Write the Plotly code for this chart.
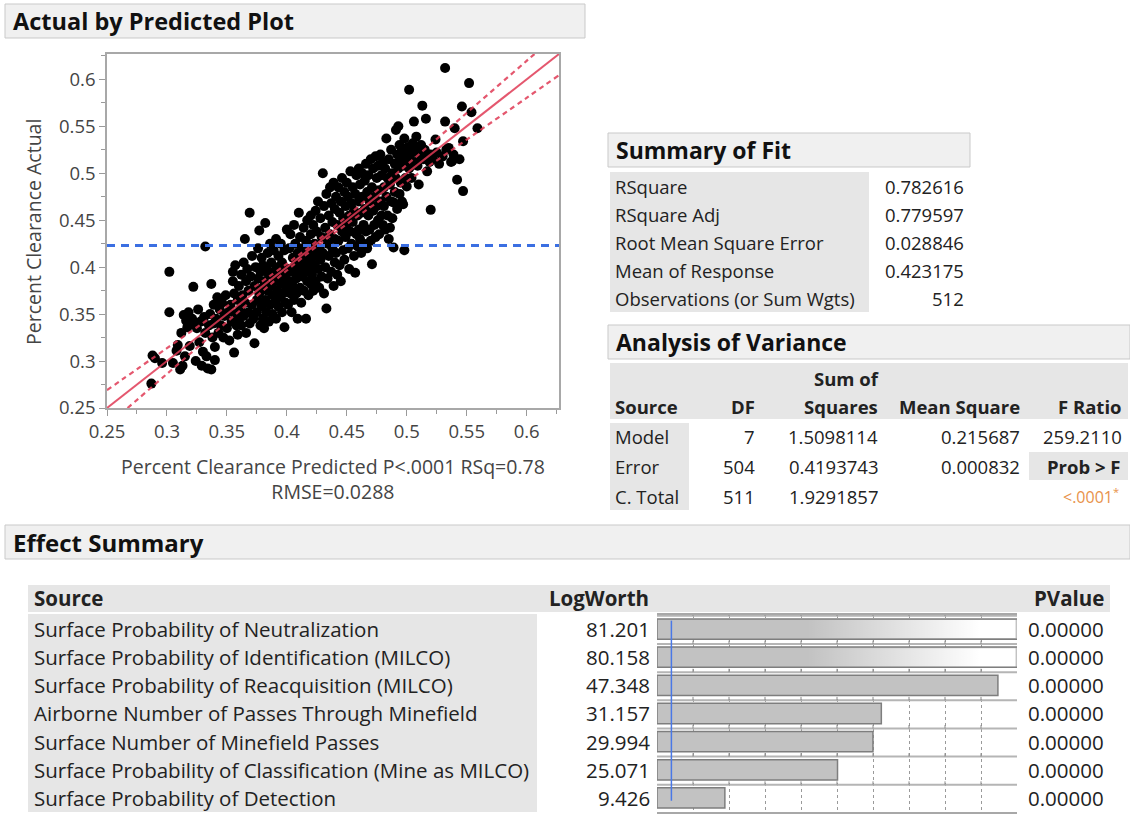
import plotly.graph_objects as go

W, H = 1130, 815
FONT = "Open Sans"

# ---------------- data ----------------
# (predicted, actual) pairs read off the Actual by Predicted plot
scatter_points = [
    (0.287, 0.276), (0.288, 0.306), (0.290, 0.303), (0.296, 0.298),
    (0.302, 0.395), (0.302, 0.352), (0.305, 0.298), (0.308, 0.311), (0.309, 0.317), (0.311, 0.291),
    (0.313, 0.295), (0.312, 0.330), (0.314, 0.349), (0.316, 0.343), (0.317, 0.336), (0.318, 0.352),
    (0.319, 0.316), (0.315, 0.305),
    (0.321, 0.345), (0.322, 0.379), (0.323, 0.340), (0.324, 0.300), (0.325, 0.335), (0.326, 0.355),
    (0.327, 0.320), (0.328, 0.342), (0.329, 0.295), (0.330, 0.310), (0.331, 0.347), (0.332, 0.422),
    (0.332, 0.330), (0.333, 0.305), (0.334, 0.292), (0.335, 0.338), (0.336, 0.350), (0.337, 0.382),
    (0.337, 0.291), (0.338, 0.325), (0.339, 0.340), (0.339, 0.360), (0.340, 0.301), (0.340, 0.315),
    (0.341, 0.345), (0.342, 0.368), (0.343, 0.330), (0.344, 0.355), (0.345, 0.338), (0.346, 0.362),
    (0.347, 0.325), (0.348, 0.348), (0.349, 0.370), (0.350, 0.335), (0.351, 0.352), (0.352, 0.322),
    (0.353, 0.360), (0.354, 0.342), (0.355, 0.385), (0.355, 0.395), (0.356, 0.309), (0.356, 0.372),
    (0.357, 0.350), (0.358, 0.338), (0.359, 0.365), (0.359, 0.328), (0.360, 0.380), (0.360, 0.345),
    (0.357, 0.402),
    (0.361, 0.355), (0.362, 0.392), (0.362, 0.338), (0.363, 0.370), (0.364, 0.348), (0.364, 0.405),
    (0.365, 0.362), (0.365, 0.430), (0.366, 0.330), (0.366, 0.385), (0.367, 0.398), (0.368, 0.352),
    (0.368, 0.375), (0.369, 0.458), (0.369, 0.340), (0.370, 0.390), (0.371, 0.360), (0.371, 0.412),
    (0.372, 0.345), (0.373, 0.319), (0.373, 0.380), (0.374, 0.400), (0.375, 0.365), (0.375, 0.352),
    (0.376, 0.420), (0.376, 0.388), (0.377, 0.439), (0.377, 0.372), (0.378, 0.338), (0.378, 0.395),
    (0.379, 0.358), (0.379, 0.410), (0.380, 0.378), (0.380, 0.345), (0.380, 0.402),
    (0.381, 0.335), (0.381, 0.385), (0.382, 0.447), (0.382, 0.365), (0.383, 0.398), (0.383, 0.352),
    (0.384, 0.415), (0.384, 0.375), (0.385, 0.342), (0.385, 0.392), (0.386, 0.360), (0.386, 0.425),
    (0.387, 0.380), (0.387, 0.405), (0.388, 0.350), (0.388, 0.370), (0.389, 0.395), (0.389, 0.418),
    (0.390, 0.362), (0.390, 0.385), (0.391, 0.345), (0.391, 0.430), (0.392, 0.375), (0.392, 0.400),
    (0.393, 0.358), (0.393, 0.412), (0.394, 0.390), (0.394, 0.368), (0.395, 0.425), (0.395, 0.382),
    (0.396, 0.352), (0.396, 0.405), (0.397, 0.372), (0.397, 0.395), (0.398, 0.336), (0.398, 0.418),
    (0.399, 0.362), (0.399, 0.388), (0.400, 0.440), (0.400, 0.378),
    (0.401, 0.398), (0.401, 0.360), (0.402, 0.420), (0.402, 0.385), (0.403, 0.372), (0.403, 0.435),
    (0.404, 0.395), (0.404, 0.352), (0.405, 0.410), (0.405, 0.380), (0.406, 0.445), (0.406, 0.365),
    (0.407, 0.402), (0.407, 0.425), (0.408, 0.388), (0.408, 0.372), (0.409, 0.345), (0.409, 0.415),
    (0.410, 0.458), (0.410, 0.395), (0.411, 0.378), (0.411, 0.432), (0.412, 0.405), (0.412, 0.362),
    (0.413, 0.420), (0.413, 0.390), (0.414, 0.442), (0.414, 0.375), (0.415, 0.412), (0.415, 0.398),
    (0.416, 0.345), (0.416, 0.428), (0.417, 0.385), (0.417, 0.450), (0.418, 0.405), (0.418, 0.370),
    (0.419, 0.418), (0.419, 0.395), (0.420, 0.435), (0.420, 0.382), (0.420, 0.455),
    (0.421, 0.410), (0.421, 0.392), (0.422, 0.445), (0.422, 0.375), (0.423, 0.425), (0.423, 0.402),
    (0.424, 0.460), (0.424, 0.385), (0.425, 0.415), (0.425, 0.438), (0.426, 0.398), (0.426, 0.470),
    (0.427, 0.378), (0.427, 0.420), (0.428, 0.452), (0.428, 0.408), (0.429, 0.390), (0.429, 0.432),
    (0.430, 0.500), (0.430, 0.415), (0.431, 0.465), (0.431, 0.372), (0.432, 0.442), (0.432, 0.400),
    (0.433, 0.356), (0.433, 0.478), (0.434, 0.425), (0.434, 0.388), (0.435, 0.455), (0.435, 0.412),
    (0.436, 0.485), (0.436, 0.435), (0.437, 0.395), (0.437, 0.468), (0.438, 0.420), (0.438, 0.448),
    (0.439, 0.380), (0.439, 0.490), (0.440, 0.430), (0.440, 0.405), (0.440, 0.462),
    (0.441, 0.475), (0.441, 0.415), (0.442, 0.445), (0.442, 0.392), (0.443, 0.485), (0.443, 0.428),
    (0.444, 0.458), (0.444, 0.402), (0.445, 0.385), (0.445, 0.470), (0.446, 0.438), (0.446, 0.495),
    (0.447, 0.418), (0.447, 0.452), (0.448, 0.480), (0.448, 0.408), (0.449, 0.432), (0.449, 0.465),
    (0.450, 0.445), (0.450, 0.490), (0.451, 0.420), (0.451, 0.475), (0.452, 0.455), (0.452, 0.398),
    (0.453, 0.438), (0.453, 0.502), (0.454, 0.468), (0.454, 0.425), (0.455, 0.485), (0.455, 0.448),
    (0.456, 0.412), (0.456, 0.460), (0.457, 0.394), (0.457, 0.478), (0.458, 0.435), (0.458, 0.498),
    (0.459, 0.455), (0.459, 0.422), (0.460, 0.470), (0.460, 0.440), (0.460, 0.505),
    (0.461, 0.488), (0.461, 0.430), (0.462, 0.458), (0.462, 0.415), (0.463, 0.475), (0.463, 0.500),
    (0.464, 0.445), (0.464, 0.425), (0.465, 0.492), (0.465, 0.462), (0.466, 0.438), (0.466, 0.510),
    (0.467, 0.480), (0.467, 0.420), (0.468, 0.455), (0.468, 0.498), (0.469, 0.440), (0.469, 0.470),
    (0.470, 0.515), (0.470, 0.428), (0.471, 0.403), (0.471, 0.485), (0.472, 0.460), (0.472, 0.505),
    (0.473, 0.445), (0.473, 0.475), (0.474, 0.518), (0.474, 0.432), (0.475, 0.495), (0.475, 0.465),
    (0.476, 0.450), (0.476, 0.508), (0.477, 0.482), (0.477, 0.435), (0.478, 0.520), (0.478, 0.470),
    (0.479, 0.455), (0.479, 0.498), (0.480, 0.445), (0.480, 0.512),
    (0.481, 0.485), (0.481, 0.465), (0.482, 0.505), (0.482, 0.440), (0.483, 0.537), (0.483, 0.475),
    (0.484, 0.495), (0.484, 0.455), (0.485, 0.515), (0.485, 0.430), (0.486, 0.442), (0.486, 0.488),
    (0.487, 0.525), (0.487, 0.470), (0.488, 0.500), (0.488, 0.452), (0.489, 0.469), (0.489, 0.421),
    (0.490, 0.510), (0.490, 0.480), (0.491, 0.546), (0.491, 0.495), (0.492, 0.462), (0.492, 0.520),
    (0.493, 0.550), (0.493, 0.505), (0.494, 0.478), (0.494, 0.530), (0.495, 0.490), (0.495, 0.515),
    (0.496, 0.470), (0.496, 0.525), (0.497, 0.467), (0.497, 0.508), (0.498, 0.537), (0.498, 0.418),
    (0.499, 0.495), (0.499, 0.520), (0.500, 0.486), (0.500, 0.512),
    (0.501, 0.528), (0.502, 0.589), (0.502, 0.505), (0.503, 0.520), (0.504, 0.495), (0.505, 0.532),
    (0.506, 0.555), (0.506, 0.512), (0.507, 0.525), (0.508, 0.539), (0.509, 0.508), (0.510, 0.488),
    (0.510, 0.522), (0.511, 0.518), (0.512, 0.530), (0.513, 0.572), (0.514, 0.515), (0.515, 0.525),
    (0.516, 0.558), (0.517, 0.502), (0.518, 0.520), (0.519, 0.512), (0.520, 0.461), (0.520, 0.520),
    (0.522, 0.515), (0.524, 0.536), (0.525, 0.522), (0.527, 0.510), (0.530, 0.518), (0.532, 0.612),
    (0.532, 0.555), (0.533, 0.525), (0.535, 0.527), (0.537, 0.512), (0.538, 0.513), (0.540, 0.548),
    (0.539, 0.520),
    (0.542, 0.493), (0.544, 0.515), (0.546, 0.571), (0.547, 0.534), (0.547, 0.481), (0.552, 0.596),
    (0.554, 0.565), (0.559, 0.548),
]
pred = [p[0] for p in scatter_points]
actual = [p[1] for p in scatter_points]

axis_range = [0.25, 0.627]
axis_ticks = [0.25, 0.3, 0.35, 0.4, 0.45, 0.5, 0.55, 0.6]
axis_tick_labels = ["0.25", "0.3", "0.35", "0.4", "0.45", "0.5", "0.55", "0.6"]
mean_response = 0.423175

# confidence curves around the fit line (half widths)
band_x = [0.25, 0.30, 0.35, 0.40, 0.423, 0.45, 0.50, 0.55, 0.60, 0.627]
band_half = [0.019, 0.0137, 0.0083, 0.0036, 0.0028, 0.0042, 0.0089, 0.0142, 0.0197, 0.0226]

x_title_line1 = "Percent Clearance Predicted P&lt;.0001 RSq=0.78"
x_title_line2 = "RMSE=0.0288"
y_title = "Percent Clearance Actual"

fit_labels = ["RSquare", "RSquare Adj", "Root Mean Square Error", "Mean of Response",
              "Observations (or Sum Wgts)"]
fit_values = ["0.782616", "0.779597", "0.028846", "0.423175", "512"]

anova_sources = ["Model", "Error", "C. Total"]
anova_df = ["7", "504", "511"]
anova_ss = ["1.5098114", "0.4193743", "1.9291857"]
anova_ms = ["0.215687", "0.000832", ""]
anova_f_ratio = "259.2110"
anova_prob = "&lt;.0001<sup>*</sup>"

effect_sources = [
    "Surface Probability of Neutralization",
    "Surface Probability of Identification (MILCO)",
    "Surface Probability of Reacquisition (MILCO)",
    "Airborne Number of Passes Through Minefield",
    "Surface Number of Minefield Passes",
    "Surface Probability of Classification (Mine as MILCO)",
    "Surface Probability of Detection",
]
effect_logworth = [81.201, 80.158, 47.348, 31.157, 29.994, 25.071, 9.426]
effect_logworth_text = ["81.201", "80.158", "47.348", "31.157", "29.994", "25.071", "9.426"]
effect_pvalue = ["0.00000"] * 7
logworth_axis_max = 50
logworth_dtick = 5
logworth_ref = 2

# ---------------- helpers ----------------
def X(px):
    return px / W


def Y(py):
    return 1 - py / H


annotations = []
shapes = []
BODY = 18.5
EFFECT = 20.5


def txt(px, py, s, anchor="left", size=BODY, bold=False, color="#222222", angle=0):
    annotations.append(dict(
        x=X(px), y=Y(py), xref="paper", yref="paper",
        text=f"<b>{s}</b>" if bold else s, showarrow=False,
        xanchor=anchor, yanchor="middle", textangle=angle,
        font=dict(family=FONT, size=size, color=color)))


def rect(x0, y0, x1, y1, fill, line=None, lw=1):
    shapes.append(dict(type="rect", xref="paper", yref="paper",
                       x0=X(x0), x1=X(x1), y0=Y(y1), y1=Y(y0),
                       fillcolor=fill, layer="below",
                       line=dict(color=line or fill, width=lw if line else 0)))


def header(x0, y0, x1, y1, title, size=23):
    rect(x0, y0, x1, y1, "#f0f0f0", "#c9c9c9", 1)
    txt(x0 + 6, (y0 + y1) / 2, title, size=size, bold=True, color="#111111")


GRAY = "#e6e6e6"

fig = go.Figure()

# ---------------- Actual by Predicted ----------------
header(5, 4, 585, 38, "Actual by Predicted Plot", 23.5)

fig.add_trace(go.Scatter(x=pred, y=actual, mode="markers",
                         marker=dict(size=10, color="black"),
                         hoverinfo="skip", showlegend=False))
fig.add_trace(go.Scatter(x=axis_range, y=[mean_response, mean_response], mode="lines",
                         line=dict(color="#3b6fe2", width=3, dash="8px,6px"),
                         hoverinfo="skip", showlegend=False))
fig.add_trace(go.Scatter(x=axis_range, y=axis_range, mode="lines", opacity=0.85,
                         line=dict(color="#e03a55", width=2),
                         hoverinfo="skip", showlegend=False))
upper = [bx + h for bx, h in zip(band_x, band_half)]
lower = [bx - h for bx, h in zip(band_x, band_half)]
for yy in (upper, lower):
    fig.add_trace(go.Scatter(x=band_x, y=yy, mode="lines", opacity=0.85,
                             line=dict(color="#e03a55", width=2.2, dash="5px,4px", shape="spline"),
                             hoverinfo="skip", showlegend=False))

axis_common = dict(range=axis_range, tickmode="array", tickvals=axis_ticks,
                   ticktext=axis_tick_labels, ticks="outside", ticklen=6, tickwidth=1,
                   tickcolor="#9a9a9a", showline=True, linecolor="#a8a8a8", linewidth=1.5,
                   mirror=True, showgrid=False, zeroline=False, automargin=False,
                   tickfont=dict(family=FONT, size=18.5, color="#444444"),
                   minor=dict(tickmode="linear", tick0=0.25, dtick=0.025, ticks="outside",
                              ticklen=4, tickcolor="#9a9a9a"))

txt(33, 232, y_title, anchor="center", size=19.5, color="#444444", angle=-90)
txt(333, 479, x_title_line1 + "<br>" + x_title_line2, anchor="center", size=19.5,
    color="#444444")

# ---------------- Summary of Fit ----------------
header(608, 133, 970, 167, "Summary of Fit")
rect(610, 172, 869, 312, GRAY)
for i, (lab, val) in enumerate(zip(fit_labels, fit_values)):
    yy = 186 + i * 28
    txt(613, yy, lab)
    txt(966, yy, val, anchor="right")

# ---------------- Analysis of Variance ----------------
header(608, 325, 1130, 359, "Analysis of Variance")
rect(610, 363, 1128, 419, GRAY)
txt(846, 378, "Sum of", anchor="center", bold=True)
txt(613, 406, "Source", bold=True)
txt(757, 406, "DF", anchor="right", bold=True)
txt(880, 406, "Squares", anchor="right", bold=True)
txt(1022, 406, "Mean Square", anchor="right", bold=True)
txt(1123, 406, "F Ratio", anchor="right", bold=True)
rect(610, 423, 689, 510, GRAY)
for i, src in enumerate(anova_sources):
    yy = 436 + i * 30
    txt(613, yy, src)
    txt(757, yy, anova_df[i], anchor="right")
    txt(880, yy, anova_ss[i], anchor="right")
    if anova_ms[i]:
        txt(1022, yy, anova_ms[i], anchor="right")
txt(1124, 436, anova_f_ratio, anchor="right")
rect(1029, 452, 1128, 480, GRAY)
txt(1123, 466, "Prob &gt; F", anchor="right", bold=True)
txt(1121, 496, anova_prob, anchor="right", size=16, color="#e8924a")

# ---------------- Effect Summary ----------------
header(5, 525, 1130, 559, "Effect Summary", 24)
rect(28, 585, 1110, 612, GRAY)
rect(28, 614, 537, 812, GRAY)
txt(32, 598, "Source", size=EFFECT, bold=True)
txt(651, 598, "LogWorth", anchor="right", size=EFFECT, bold=True)
txt(1106, 598, "PValue", anchor="right", size=EFFECT, bold=True)

row_y0, row_step = 629, 28.15
for i, src in enumerate(effect_sources):
    yy = row_y0 + i * row_step
    txt(32, yy, src, size=EFFECT)
    txt(652, yy, effect_logworth_text[i], anchor="right", size=EFFECT)
    txt(1106, yy, effect_pvalue[i], anchor="right", size=EFFECT)

n = len(effect_sources)
rows = list(range(n))
fig.add_trace(go.Bar(x=effect_logworth, y=rows, orientation="h", width=0.72,
                     marker=dict(color="#c2c2c2", line=dict(color="#7e7e7e", width=1.5)),
                     xaxis="x2", yaxis="y2", hoverinfo="skip", showlegend=False))
# fading overlay for effects whose LogWorth exceeds the axis
for i, v in enumerate(effect_logworth):
    if v > logworth_axis_max:
        xe = logworth_axis_max * 0.996
        fig.add_trace(go.Scatter(
            x=[0, xe, xe, 0, 0], y=[i - 0.32, i - 0.32, i + 0.32, i + 0.32, i - 0.32],
            fill="toself", mode="lines", line=dict(width=0, color="rgba(0,0,0,0)"),
            fillgradient=dict(type="horizontal", colorscale=[
                [0, "rgba(255,255,255,0)"], [0.42, "rgba(255,255,255,0)"],
                [0.9, "rgba(255,255,255,1)"], [1, "rgba(255,255,255,1)"]]),
            xaxis="x2", yaxis="y2", hoverinfo="skip", showlegend=False))

# per-row scale lines with ticks
tick_positions = [k * logworth_dtick for k in range(int(logworth_axis_max / logworth_dtick) + 1)]
for i in rows:
    ytop = i - 0.47
    shapes.append(dict(type="line", xref="x2", yref="y2", x0=0, x1=logworth_axis_max,
                       y0=ytop, y1=ytop, line=dict(color="#b5b5b5", width=2), layer="above"))
    for t in tick_positions[1:-1]:
        shapes.append(dict(type="line", xref="x2", yref="y2", x0=t, x1=t,
                           y0=ytop, y1=ytop - 0.12, line=dict(color="#8a8a8a", width=1),
                           layer="above"))
shapes.append(dict(type="line", xref="x2", yref="y2", x0=logworth_ref, x1=logworth_ref,
                   y0=-0.3, y1=n - 0.9, line=dict(color="#4a78e6", width=1.5), layer="above"))

fig.update_layout(
    width=W, height=H,
    margin=dict(l=0, r=0, t=0, b=0, pad=0, autoexpand=False),
    paper_bgcolor="white", plot_bgcolor="white", showlegend=False,
    xaxis=dict(domain=[X(107), X(559)], anchor="y", **axis_common),
    yaxis=dict(domain=[Y(408), Y(54)], anchor="x", **axis_common),
    xaxis2=dict(domain=[X(657), X(1017)], anchor="y2", range=[0, logworth_axis_max],
                dtick=logworth_dtick, showticklabels=False, ticks="", automargin=False,
                showgrid=True, gridcolor="#9a9a9a", griddash="dot", gridwidth=1,
                zeroline=False, showline=True, linecolor="#a8a8a8", linewidth=1.5, mirror=True),
    yaxis2=dict(domain=[Y(812), Y(615)], anchor="x2", range=[n - 0.5, -0.5], automargin=False,
                showticklabels=False, ticks="", showgrid=False, zeroline=False),
    bargap=0.2,
    annotations=annotations, shapes=shapes,
)

fig.write_html(
    "out.html",
    config={"displayModeBar": False, "responsive": False},
    post_script="document.documentElement.style.margin='0';document.body.style.margin='0';"
                "document.body.style.overflow='hidden';document.documentElement.style.overflow='hidden';",
)
